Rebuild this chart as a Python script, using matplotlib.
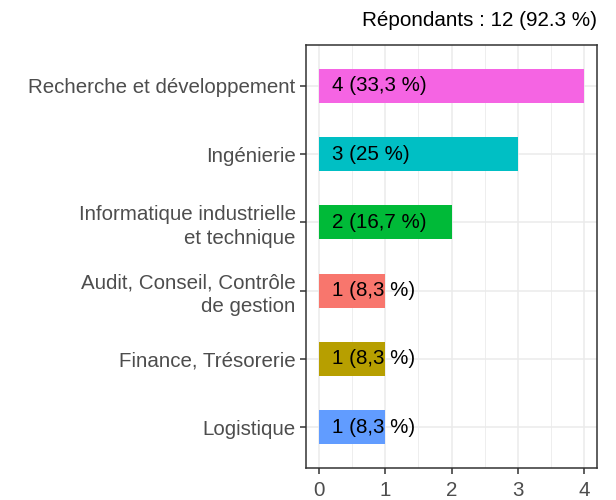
import matplotlib
matplotlib.use("Agg")
import matplotlib.pyplot as plt
from matplotlib.ticker import MultipleLocator

categories = ["Logistique", "Finance, Trésorerie", "Audit, Conseil, Contrôle\nde gestion",
              "Informatique industrielle\net technique", "Ingénierie", "Recherche et développement"]
counts = [1, 1, 1, 2, 3, 4]
labels = ["1 (8,3 %)", "1 (8,3 %)", "1 (8,3 %)", "2 (16,7 %)", "3 (25 %)", "4 (33,3 %)"]
colors = ["#619CFF", "#B79F00", "#F8766D", "#00BA38", "#00BFC4", "#F564E3"]
title = "Répondants : 12 (92.3 %)"

plt.rcParams['font.family'] = ['Liberation Sans', 'DejaVu Sans']

fig = plt.figure(figsize=(6.16, 5.0), dpi=100)
ax = fig.add_axes([306/616, 1-468/500, (597-306)/616, (468-45)/500])

ypos = list(range(1, len(categories)+1))
ax.barh(ypos, counts, height=0.5, color=colors, zorder=2)
for y, lab in zip(ypos, labels):
    ax.text(0.2, y, lab, ha='left', va='center', fontsize=14.8, color='black', zorder=3)

ax.set_xlim(-0.2, 4.2)
ax.set_ylim(0.4, 6.6)
ax.set_yticks(ypos)
ax.set_yticklabels(categories, ha='right', linespacing=1.28)
ax.xaxis.set_major_locator(MultipleLocator(1))
ax.xaxis.set_minor_locator(MultipleLocator(0.5))
ax.grid(True, which='major', color='#EBEBEB', linewidth=1.1, zorder=0)
ax.grid(True, which='minor', axis='x', color='#EBEBEB', linewidth=0.6, zorder=0)
ax.set_axisbelow(True)
ax.tick_params(axis='both', which='major', colors='#333333', labelcolor='#4D4D4D',
               labelsize=14.8, length=4.5, width=1.1, pad=3)
ax.tick_params(axis='x', which='major', pad=5)
ax.tick_params(axis='x', which='minor', length=0)
for s in ax.spines.values():
    s.set_color('#333333')
    s.set_linewidth(1.1)

fig.text(597/616, 1-20/500, title, ha='right', va='center', fontsize=14.9, color='black')

fig.savefig("out.png", dpi=100)
